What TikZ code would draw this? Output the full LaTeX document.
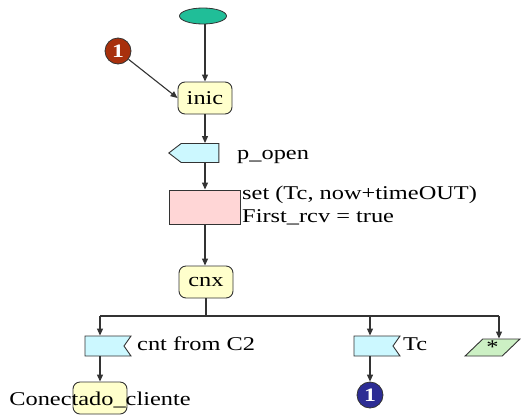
\documentclass[tikz,border=0pt]{standalone}
\usepackage{fontspec}
\setmainfont{Liberation Serif}[FakeStretch=1.25]
\usetikzlibrary{shapes.symbols,shapes.geometric,arrows.meta}

\definecolor{startgreen}{HTML}{20BE98}
\definecolor{stateyellow}{HTML}{FFFFCC}
\definecolor{sigcyan}{HTML}{CCF8FF}
\definecolor{taskpink}{HTML}{FFD6D6}
\definecolor{anygreen}{HTML}{CCF0C4}
\definecolor{joinred}{HTML}{A8300C}
\definecolor{joinblue}{HTML}{2C2C94}
\definecolor{edge}{HTML}{333333}

\begin{document}
\begin{tikzpicture}[x=1pt,y=-1pt,
  every node/.style={font=\fontsize{19.5}{22}\selectfont},
  flow/.style={draw=edge, line width=1.1pt, -{Triangle[length=7pt,width=6pt]}},
  link/.style={draw=edge, line width=1.1pt},
  startnode/.style={ellipse, draw=edge, line width=0.8pt, fill=startgreen,
    minimum width=47pt, minimum height=16pt, inner sep=0pt},
  statebox/.style={draw=edge, line width=0.9pt, fill=stateyellow,
    rounded corners=7pt, minimum width=54pt, minimum height=32pt, inner sep=0pt},
  sendsig/.style={signal, signal to=west, signal from=nowhere,
    signal pointer angle=75, draw=edge, line width=0.9pt, fill=sigcyan,
    minimum width=50pt, minimum height=19pt, inner sep=0pt},
  recvsig/.style={signal, signal to=nowhere, signal from=east,
    signal pointer angle=110, draw=edge, line width=0.9pt, fill=sigcyan,
    minimum width=46pt, minimum height=20pt, inner sep=0pt},
  taskbox/.style={draw=edge, line width=0.9pt, fill=taskpink,
    minimum width=71pt, minimum height=34pt, inner sep=0pt},
  anyinput/.style={trapezium, trapezium left angle=49, trapezium right angle=131,
    trapezium stretches=true, draw=edge, line width=0.9pt, fill=anygreen,
    minimum width=55pt, minimum height=17pt, inner sep=0pt},
  joinpt/.style={circle, draw=edge, line width=0.8pt, minimum size=26pt,
    inner sep=0pt, text=white, font=\fontsize{19}{19}\selectfont\bfseries},
  lbl/.style={inner sep=0pt, anchor=base west}
]
\useasboundingbox (0,0) rectangle (521,418);

% start and initial state
\node[startnode] (start) at (203,16) {};
\node[statebox] (inic) at (205,98) {inic};
\node[joinpt, fill=joinred] (j1) at (118,51) {1};

% output p_open
\node[sendsig] (popen) at (200,153) {};
\node[lbl] (popenlbl) at (237,159) {p\_open};

% task: set timer
\node[taskbox] (task) at (205,207) {};
\node[lbl] (tasklbl1) at (242,199) {set (Tc, now+timeOUT)};
\node[lbl] (tasklbl2) at (242,222) {First\_rcv = true};

% state cnx
\node[statebox] (cnx) at (206,282) {cnx};

% branch points on the horizontal bar
\coordinate (bar) at (206,316);
\coordinate (b1) at (100,316);
\coordinate (b2) at (370,316);
\coordinate (b3) at (499,316);

% inputs
\node[recvsig] (cnt) at (104.5,346) {};
\node[lbl] (cntlbl) at (137,350) {cnt from C2};
\node[recvsig] (tc) at (373.5,346) {};
\node[lbl] (tclbl) at (403,350) {Tc};
\node[anyinput] (any) at (492.5,347.5) {*};

% next states
\node[statebox] (conn) at (100,398) {};
\node[inner sep=0pt] (connlbl) at (100,400) {Conectado\_cliente};
\node[joinpt, fill=joinblue] (j2) at (370,395) {1};

% connectors
\draw[flow] (start.south -| inic.north) -- (inic.north);
\draw[flow] (j1) -- (inic.west);
\draw[flow] (inic.south) -- (inic.south |- popen.north);
\draw[flow] (inic.south |- popen.south) -- (inic.south |- task.north);
\draw[flow] (task.south) -- (task.south |- cnx.north);
\draw[link] (cnx.south) -- (bar);
\draw[link] (b1) -- (b3);
\draw[flow] (b1) -- (b1 |- cnt.north);
\draw[flow] (b2) -- (b2 |- tc.north);
\draw[flow] (b3) -- (b3 |- any.north);
\draw[flow] (b1 |- cnt.south) -- (conn.north);
\draw[flow] (b2 |- tc.south) -- (j2.north);
\end{tikzpicture}
\end{document}
